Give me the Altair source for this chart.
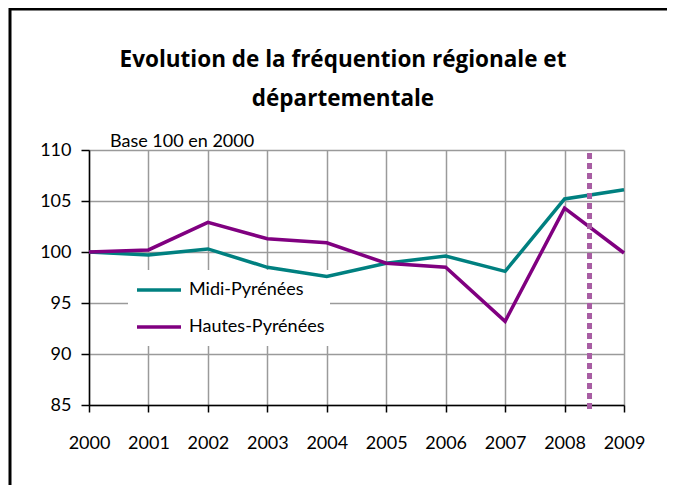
import altair as alt
import pandas as pd

years = [2000, 2001, 2002, 2003, 2004, 2005, 2006, 2007, 2008, 2009]
midi = [100.0, 99.7, 100.3, 98.5, 97.6, 98.9, 99.6, 98.1, 105.2, 106.1]
hautes = [100.0, 100.2, 102.9, 101.3, 100.9, 98.9, 98.5, 93.2, 104.3, 99.9]
series_names = ["Midi-Pyrénées", "Hautes-Pyrénées"]
series_colors = ["#008080", "#800080"]
marker_year = [2008.42]
marker_top = [109.7]
marker_bottom = [84.5]
title_lines = ["Evolution de la fréquention régionale et", "départementale"]
base_note = "Base 100 en 2000"
y_ticks = [85, 90, 95, 100, 105, 110]

FONT = "Lato"

rows = []
for name, vals in zip(series_names, [midi, hautes]):
    for yr, v in zip(years, vals):
        rows.append({"year": yr, "value": v, "serie": name})
df = pd.DataFrame(rows)

marker_df = pd.DataFrame({"year": marker_year, "top": marker_top, "bottom": marker_bottom})
one = pd.DataFrame({"k": [0]})

x_enc = alt.X("year:Q", scale=alt.Scale(domain=[2000, 2009], nice=False, zero=False),
              axis=alt.Axis(values=years, format="d", title=None, grid=True,
                            tickSize=7, labelPadding=22, labelFontSize=18,
                            labelOverlap=False, labelFlush=False))
y_enc = alt.Y("value:Q", scale=alt.Scale(domain=[85, 110], nice=False, zero=False),
              axis=alt.Axis(values=y_ticks, title=None, grid=True, tickSize=8,
                            labelPadding=10, labelFontSize=18))

# white box behind the legend (drawn under the lines, over the grid)
legend_box = alt.Chart(one).mark_rect(fill="white").encode(
    x=alt.value(39), x2=alt.value(241), y=alt.value(120), y2=alt.value(196)
)

lines = alt.Chart(df).mark_line(strokeWidth=3.5).encode(
    x=x_enc,
    y=y_enc,
    color=alt.Color("serie:N",
                    scale=alt.Scale(domain=series_names, range=series_colors),
                    sort=series_names,
                    legend=alt.Legend(orient="none", legendX=39, legendY=120, title=None,
                                      padding=7,
                                      symbolType="M-2,0H2", symbolSize=484,
                                      symbolStrokeWidth=3.5, symbolOffset=11,
                                      labelOffset=17, labelFontSize=18, labelFont=FONT,
                                      labelColor="black", rowPadding=15)),
)

marker = alt.Chart(marker_df).mark_rule(color="#A85DA3", strokeWidth=5, strokeDash=[6, 4]).encode(
    x="year:Q", y="top:Q", y2="bottom:Q"
)

note = alt.Chart(one).mark_text(align="left", baseline="alphabetic", fontSize=18,
                                font=FONT, color="black").encode(
    x=alt.value(21), y=alt.value(-3), text=alt.value(base_note)
)

title = alt.Chart(one).mark_text(align="center", baseline="alphabetic", fontSize=22.5,
                                 font="Open Sans", fontWeight="bold", color="black",
                                 lineHeight=39).encode(
    x=alt.value(254), y=alt.value(-83), text=alt.value(title_lines)
)

frame_top = alt.Chart(one).mark_rule(color="black", strokeWidth=3).encode(
    x=alt.value(-79), x2=alt.value(590), y=alt.value(-141)
)
frame_left = alt.Chart(one).mark_rule(color="black", strokeWidth=3).encode(
    x=alt.value(-79), y=alt.value(-142), y2=alt.value(340)
)

chart = alt.layer(legend_box, lines, marker, note, title, frame_top, frame_left).properties(
    width=535, height=255,
    autosize=alt.AutoSizeParams(type="none"),
    padding={"left": 81, "top": 142, "right": 43, "bottom": 80},
    background="white",
).configure_view(stroke=None).configure_axis(
    gridColor="#9a9a9a", gridWidth=1.5, domainColor="black", domainWidth=1.5,
    tickColor="black", tickWidth=1.5, labelFont=FONT, labelColor="black",
)

chart.save("out.html", embed_options={"renderer": "svg", "actions": False})
